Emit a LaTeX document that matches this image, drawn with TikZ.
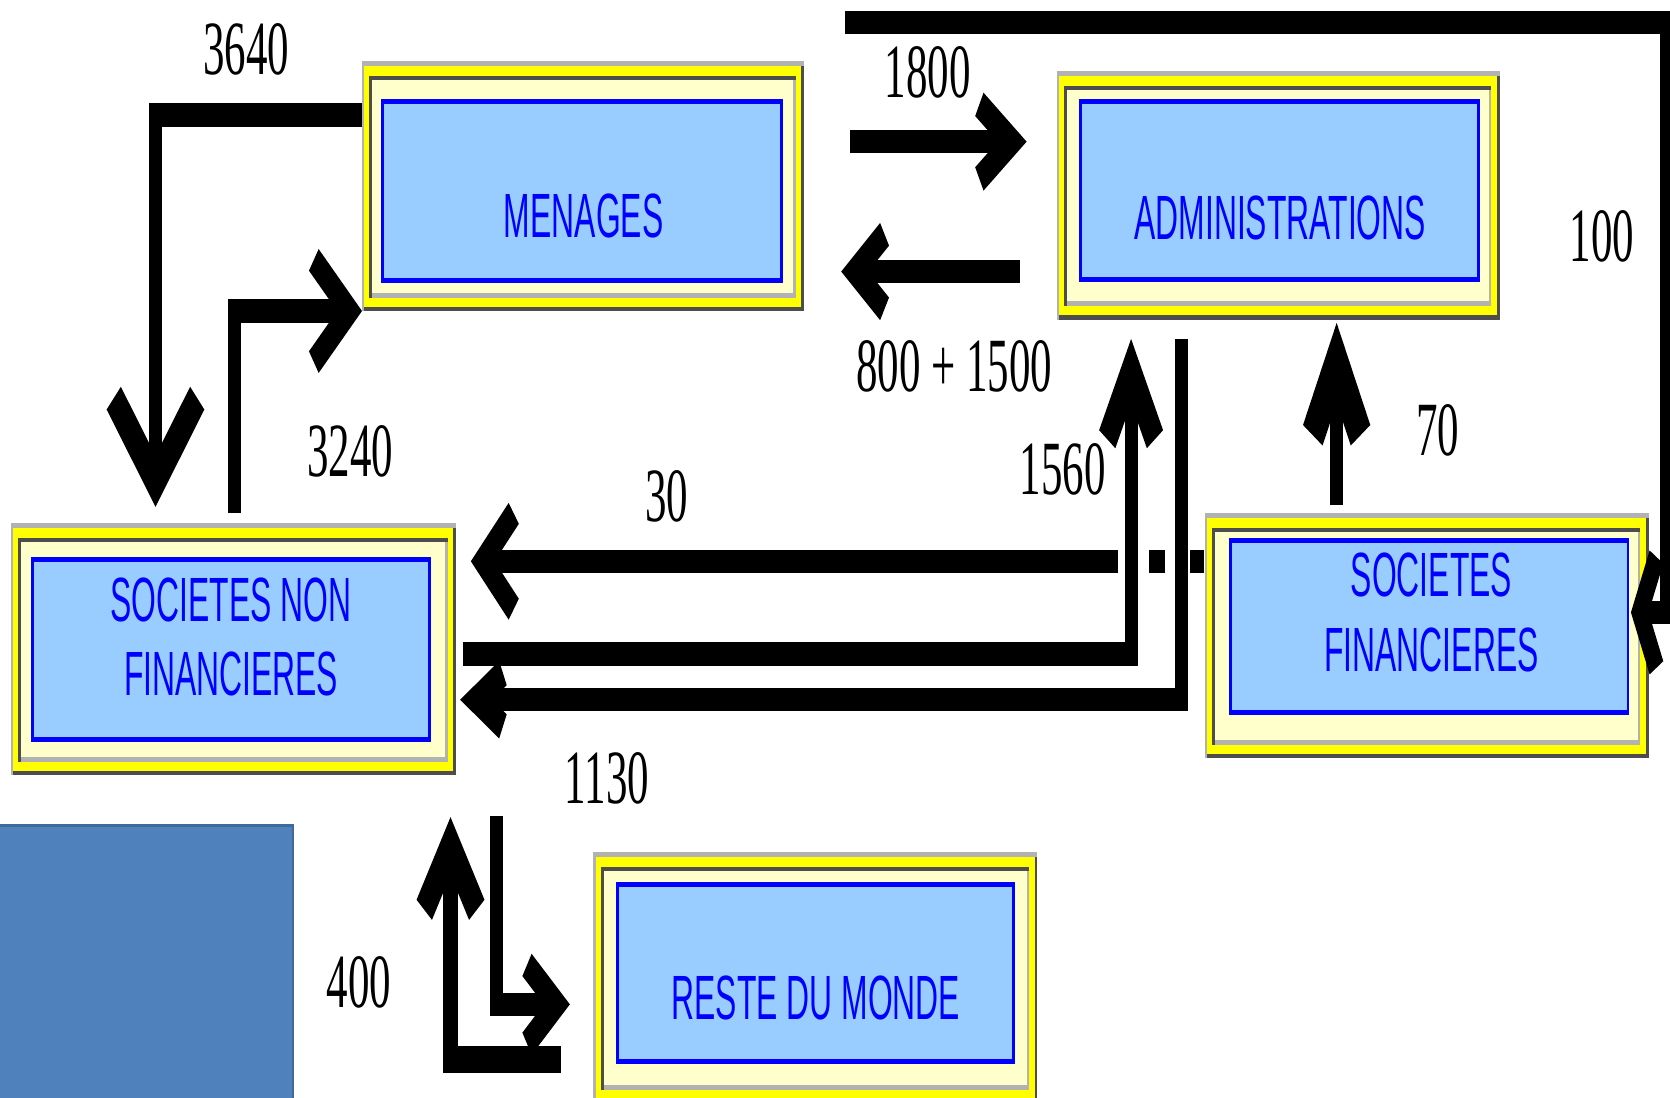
\documentclass[tikz,border=0pt]{standalone}
\usepackage{graphicx}
\usepackage{fontspec}
\setmainfont{Liberation Serif}
\newfontfamily\boxfont{Liberation Sans}
\usetikzlibrary{arrows.meta,fit}
\definecolor{lgray}{HTML}{B2B2B2}
\definecolor{dgray}{HTML}{4D4D4D}
\definecolor{pyellow}{HTML}{FFFF00}
\definecolor{cream}{HTML}{FFFFCC}
\definecolor{lblue}{HTML}{99CCFF}
\definecolor{pblue}{HTML}{0000FF}
\definecolor{sblue}{HTML}{4F81BD}
\definecolor{sbluedark}{HTML}{3F6A9C}
\tikzset{
  flow/.style={draw=black, line width=22pt, line join=miter, line cap=butt},
  chev/.style n args={3}{-{Straight Barb[length=#1pt,width=#2pt,line width=#3pt 0,sharp]}},
  bluerect/.style={draw=pblue, fill=lblue, line width=4.7pt},
  boxtxt/.style={font=\boxfont\fontsize{58.7}{70}\selectfont, text=pblue, align=center, inner sep=0pt},
  num/.style={font=\fontsize{72}{72}\selectfont, inner sep=0pt, text=black}
}
\newcommand\tribox[9]{%
  \fill[lgray] (#2,#3) rectangle (#4,#5);
  \fill[dgray] (#2+2.2,#3+4.7) rectangle (#4,#5);
  \fill[pyellow] (#2+2.2,#3+4.7) rectangle (#4-2.5,#5-3.8);
  \fill[dgray] (#2+6.9,#3+14.1) rectangle (#4-7.8,#5-12.3);
  \fill[lgray] (#2+9.7,#3+17.9) rectangle (#4-7.8,#5-12.3);
  \fill[cream] (#2+9.7,#3+17.9) rectangle (#4-10,#5-17);
  \draw[bluerect] (#6+1.5,#7+2.3) rectangle (#8-1.5,#9-2.3);
  \node[fit={(#2,#3) (#4,#5)}, inner sep=0pt] (#1) {};
}
\begin{document}
\begin{tikzpicture}[x=1pt,y=-1pt]
\useasboundingbox (0,0) rectangle (1568,1030);
\clip (0,0) rectangle (1568,1030);
\fill[white] (0,0) rectangle (1568,1030);
\begin{scope}[transform canvas={xscale=0.56}, x=1.785714pt, y=-1pt]
  % side blue panel
  \fill[sblue, draw=sbluedark, line width=3pt] (-10,775) rectangle (275,1045);
  % boxes
  \tribox{men}{340}{57}{755}{292}{358}{93}{735}{266}
  \tribox{adm}{992}{67}{1408}{300}{1013}{93}{1390}{265}
  \tribox{snf}{10}{491}{428}{728}{29}{523}{405}{697}
  \tribox{sf}{1131}{482}{1548}{712}{1154}{505}{1530}{671}
  \tribox{rdm}{557}{800}{974}{1036}{578}{828}{953}{999}
  % box texts
  \node[boxtxt] (menT) at (548,203) {\scalebox{0.91}[1]{MENAGES}};
  \node[boxtxt] (admT) at (1202,205) {\scalebox{0.91}[1]{ADMINISTRATIONS}};
  \node[boxtxt] (snfT) at (217,598) {\scalebox{0.91}[1]{SOCIETES NON}\\\scalebox{0.91}[1]{FINANCIERES}};
  \node[boxtxt] (sfT) at (1344,575) {\scalebox{0.91}[1]{SOCIETES}\\\scalebox{0.91}[1]{FINANCIERES}};
  \node[boxtxt] (rdmT) at (766,937) {\scalebox{0.91}[1]{RESTE DU MONDE}};
  % connectors
  \draw[flow, chev={78}{140}{32}, shorten >=15pt] (men.west |- 0,108) -| (146,0 |- snf.north);
  \draw[flow, chev={60}{96}{26}, shorten <=9pt] (220,0 |- snf.north) |- (men.west |- 0,292);
  \draw[flow, chev={55}{70}{26}, shorten <=77pt, shorten >=50pt] (men.east |- 0,133) -- (adm.west |- 0,133);
  \draw[flow, chev={50}{70}{26}, shorten <=61pt, shorten >=62pt] (adm.west |- 0,255) -- (men.east |- 0,255);
  \coordinate (topstart) at (793,21);
  \draw[flow, chev={28}{104}{26}, shorten >=-30pt] (topstart) -- (1565,21) -- (1565,575) -- (sf.east |- 0,575);
  \draw[flow, chev={68}{80}{38}, shorten <=8pt, shorten >=3pt] (1255,0 |- sf.north) -- (1255,0 |- adm.south);
  \draw[flow, chev={52}{90}{26}, shorten >=25pt, dash pattern=on 25pt off 41pt on 27pt off 52pt on 3000pt] (sf.west |- 0,527) -- (snf.east |- 0,527);
  \draw[flow, chev={64}{80}{32}, shorten <=11pt, shorten >=18pt] (snf.east |- 0,614) -| (1062,0 |- adm.south);
  \draw[flow, chev={45}{50}{26}, shorten <=18pt, shorten >=7pt] (1109,0 |- adm.south) |- (snf.east |- 0,657);
  \draw[flow, line width=25pt, chev={60}{88}{32}, shorten <=54pt, shorten >=39pt] (rdm.west |- 0,995) -| (423,0 |- snf.south);
  \coordinate (rdmin) at (466,766);
  \draw[flow, chev={50}{74}{26}, shorten >=39pt] (rdmin) |- (rdm.west |- 0,943);
  % labels
  \node[num] (l3640) at (231,46) {3640};
  \node[num] (l1800) at (871,68) {1800};
  \node[num] (l100) at (1504,222) {100};
  \node[num] (l800) at (896,344) {800 + 1500};
  \node[num] (l70) at (1350,404) {70};
  \node[num] (l1560) at (998,441) {1560};
  \node[num] (l3240) at (329,424) {3240};
  \node[num] (l30) at (626,466) {30};
  \node[num] (l1130) at (570,731) {1130};
  \node[num] (l400) at (337,922) {400};
\end{scope}
\end{tikzpicture}
\end{document}
